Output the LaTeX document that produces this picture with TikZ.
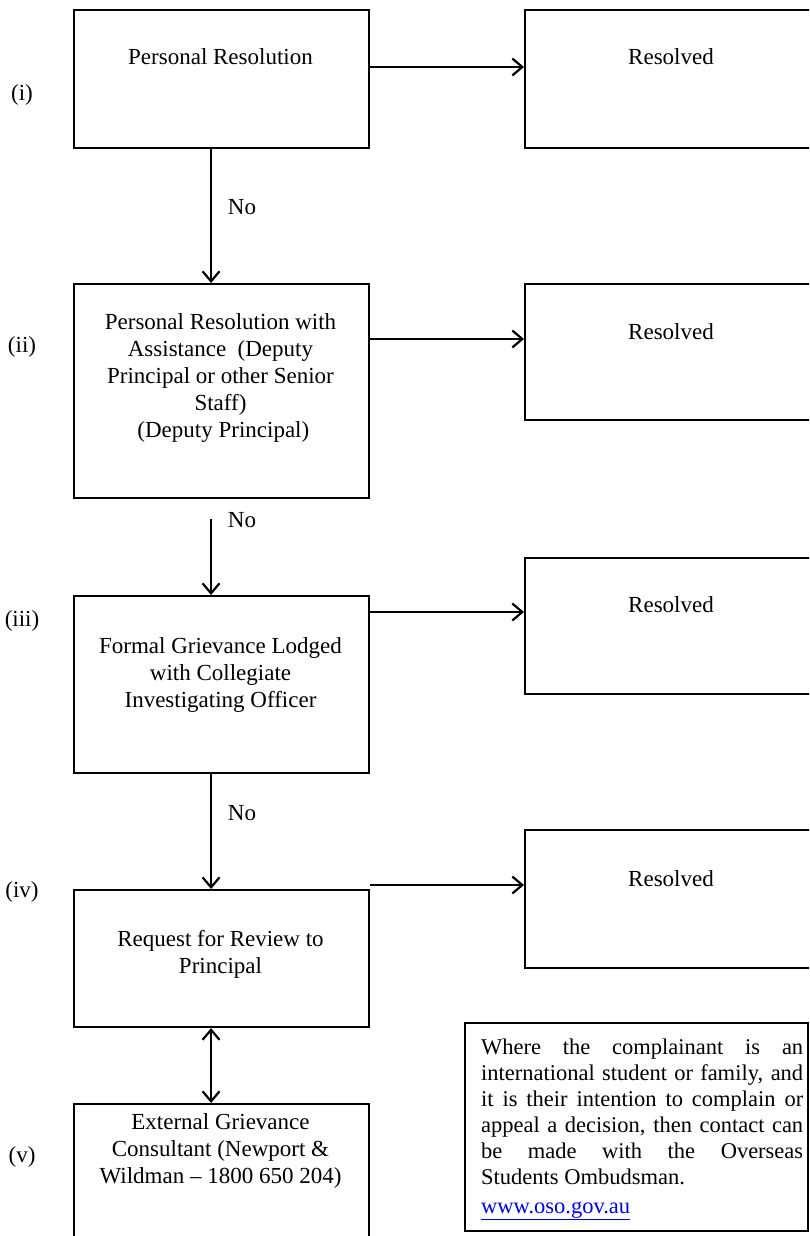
\documentclass[tikz,border=0pt]{standalone}
\usepackage{fontspec}
\setmainfont{Liberation Serif}
\usetikzlibrary{arrows.meta,calc}
\definecolor{linkblue}{RGB}{0,0,230}
\begin{document}
\begin{tikzpicture}[x=1pt,y=-1pt,
  box/.style={draw, line width=2.1pt, inner sep=0pt, anchor=north west},
  lbl/.style={font=\fontsize{23}{27}\selectfont, align=center, anchor=base, inner sep=0pt},
  arr/.style={line width=2.2pt, -{Straight Barb[length=10pt,width=17pt]}},
  darr/.style={line width=2.2pt, {Straight Barb[length=10pt,width=17pt]}-{Straight Barb[length=10pt,width=17pt]}},
]
\useasboundingbox (0,0) rectangle (809,1236);
\clip (0,0) rectangle (809,1236);
% boxes
\node[box, minimum width=295pt, minimum height=138pt] (b1) at (73,9) {};
\node[box, minimum width=300pt, minimum height=138pt] (r1) at (524,9) {};
\node[box, minimum width=295pt, minimum height=214pt] (b2) at (73,283) {};
\node[box, minimum width=300pt, minimum height=136pt] (r2) at (524,283) {};
\node[box, minimum width=295pt, minimum height=177pt] (b3) at (73,595) {};
\node[box, minimum width=300pt, minimum height=136pt] (r3) at (524,557) {};
\node[box, minimum width=295pt, minimum height=137pt] (b4) at (73,889) {};
\node[box, minimum width=300pt, minimum height=138pt] (r4) at (524,829) {};
\node[box, minimum width=295pt, minimum height=160pt] (b5) at (73,1103) {};
\node[box, minimum width=343pt, minimum height=208pt] (note) at (464,1022) {};
% box texts (anchor base = baseline of last line)
\node[lbl] (t1) at (220.5,65) {Personal Resolution};
\node[lbl] (s1) at (671,65) {Resolved};
\node[lbl] (t2) at (220.5,437) {Personal Resolution with\\Assistance\ \ (Deputy\\Principal or other Senior\\Staff)\\\ (Deputy Principal)};
\node[lbl] (s2) at (671,339) {Resolved};
\node[lbl] (t3) at (220.5,707) {Formal Grievance Lodged\\with Collegiate\\Investigating Officer};
\node[lbl] (s3) at (671,612) {Resolved};
\node[lbl] (t4) at (220.5,973) {Request for Review to\\Principal};
\node[lbl] (s4) at (671,886) {Resolved};
\node[lbl] (t5) at (220.5,1183) {External Grievance\\Consultant (Newport \&\\Wildman -- 1800 650 204)};
% note text
\node[anchor=base west, inner sep=0pt, text width=322pt, align=justify,
      font=\fontsize{22.5}{26}\selectfont] (nt) at (481,1054)
  {Where the complainant is an\linebreak
   international student or family, and\linebreak
   it is their intention to complain or\linebreak
   appeal a decision, then contact can\linebreak
   be made with the Overseas\linebreak
   Students Ombudsman.\par\vspace{3pt}
   \textcolor{linkblue}{\underline{www.oso.gov.au}}};
% row labels
\node[lbl] (l1) at (22,101) {(i)};
\node[lbl] (l2) at (22,352) {(ii)};
\node[lbl] (l3) at (22,626) {(iii)};
\node[lbl] (l4) at (22,897) {(iv)};
\node[lbl] (l5) at (22,1162) {(v)};
% No labels
\node[lbl] (n1) at (242,214) {No};
\node[lbl] (n2) at (242,527) {No};
\node[lbl] (n3) at (242,820) {No};
% connectors
\draw[arr] ([yshift=-58pt]b1.north east) -- ([yshift=-58pt]r1.north west);
\draw[arr] ([yshift=-56pt]b2.north east) -- ([yshift=-56pt]r2.north west);
\draw[arr] ([yshift=-17pt]b3.north east) -- ([yshift=-55pt]r3.north west);
\draw[arr] ([yshift=4pt]b4.north east) -- ([yshift=-56pt]r4.north west);
\draw[arr] ([xshift=-10.5pt]b1.south) -- ([xshift=-10.5pt]b2.north);
\coordinate (c2) at ([xshift=-10.5pt,yshift=-20pt]b2.south);
\draw[arr] (c2) -- ([xshift=-10.5pt]b3.north);
\draw[arr] ([xshift=-10.5pt]b3.south) -- ([xshift=-10.5pt]b4.north);
\draw[darr] ([xshift=-10.5pt]b4.south) -- ([xshift=-10.5pt]b5.north);
\end{tikzpicture}
\end{document}
